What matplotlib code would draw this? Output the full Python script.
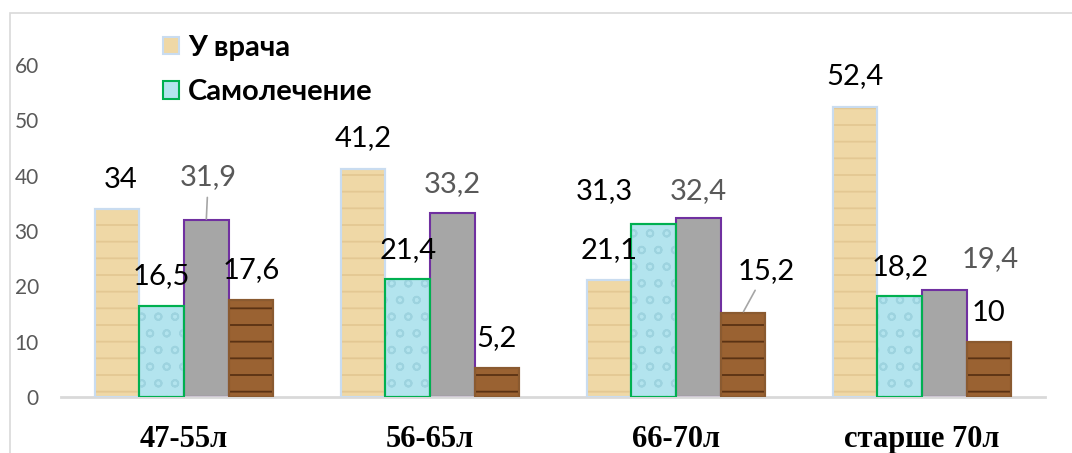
import numpy as np
import matplotlib.pyplot as plt
from matplotlib.patches import Patch, Rectangle

# age groups and series values (%)
categories = ["47-55л", "56-65л", "66-70л", "старше 70л"]
series_names = ["У врача", "Самолечение", "Серия 3", "Серия 4"]
doctor = [34, 41.2, 21.1, 52.4]
selfcare = [16.5, 21.4, 31.3, 18.2]
series3 = [31.9, 33.2, 32.4, 19.4]
series4 = [17.6, 5.2, 15.2, 10]
values = [doctor, selfcare, series3, series4]

# bar styling -------------------------------------------------
fills = ["#EFD8A6", "#B3E4EE", "#A6A6A6", "#9A6232"]
edges = ["#C9DCF0", "#00B050", "#7030A0", "#8A5A30"]
hatch_cols = ["#E3C893", "#9DD3DF", None, "#5A3214"]
hatches = ["-", "o", None, "-"]
label_cols = ["black", "black", "#595959", "black"]

# label offsets in pixels (dx, dy) from the bar top, per series / group
offsets = [
    [(3, 29), (0, 31), (0, 30), (0, 31)],
    [(0, 30), (0, 29), (-49, 33), (0, 29)],
    [(2, 43), (0, 29), (0, 27), (46, 31)],
    [(0, 30), (0, 30), (23, 42), (0, 29)],
]
leaders = {(2, 0), (3, 2)}

plt.rcParams['font.family'] = ['Lato', 'DejaVu Sans']
plt.rcParams['hatch.linewidth'] = 1.3

fig = plt.figure(figsize=(10.72, 4.53), dpi=100)
ax = fig.add_axes([61 / 1072, 56 / 453, 984 / 1072, 332 / 453])

# light frame of the chart area
fig.patches.append(Rectangle((10 / 1072, -0.1), 1.2, 1 - 13 / 453 + 0.1,
                             transform=fig.transFigure, fill=False,
                             edgecolor="#D9D9D9", linewidth=1.2))

x = np.arange(len(categories))
w = 0.181
for i, vals in enumerate(values):
    pos = x + (i - 1.5) * w
    ax.bar(pos, vals, w, color=fills[i], edgecolor=edges[i], linewidth=1.5, zorder=2)
    if hatches[i]:
        ax.bar(pos, vals, w, color="none", edgecolor=hatch_cols[i], hatch=hatches[i],
               linewidth=0, zorder=3)
        ax.bar(pos, vals, w, color="none", edgecolor=edges[i], linewidth=1.5, zorder=4)
    for j, v in enumerate(vals):
        dx, dy = offsets[i][j]
        lbl = ("%g" % v).replace(".", ",")
        kw = {}
        if (i, j) in leaders:
            kw["arrowprops"] = dict(arrowstyle="-", color="#A6A6A6", lw=1.2,
                                    shrinkA=3, shrinkB=1)
        ax.annotate(lbl, (pos[j], v), xytext=(dx, dy), textcoords="offset pixels",
                    ha="center", va="center", fontsize=21, color=label_cols[i],
                    annotation_clip=False, zorder=5, **kw)

ax.set_xlim(-0.5, len(categories) - 0.5)
ax.set_ylim(0, 60)
ax.set_yticks(range(0, 61, 10))
ax.set_xticks(x)
ax.set_xticklabels(categories, fontsize=22, fontweight="bold",
                   family="Liberation Serif")
ax.tick_params(axis="x", length=0, pad=20)
ax.tick_params(axis="y", length=0, pad=16, labelsize=15, labelcolor="#595959")
for s in ["top", "right", "left"]:
    ax.spines[s].set_visible(False)
ax.spines["bottom"].set_color("#D9D9D9")
ax.spines["bottom"].set_linewidth(2)

handles = [Patch(facecolor=fills[0], edgecolor=edges[0], linewidth=1.5),
           Patch(facecolor=fills[1], edgecolor=edges[1], linewidth=1.5)]
fig.legend(handles, series_names[:2], loc="upper left",
           bbox_to_anchor=(163 / 1072, 1 - 35 / 453), frameon=False,
           prop=dict(size=21, weight="bold"), handlelength=0.55, handleheight=0.55,
           handletextpad=0.3, labelspacing=0.62, borderpad=0, borderaxespad=0)

fig.savefig("out.png", dpi=100)
